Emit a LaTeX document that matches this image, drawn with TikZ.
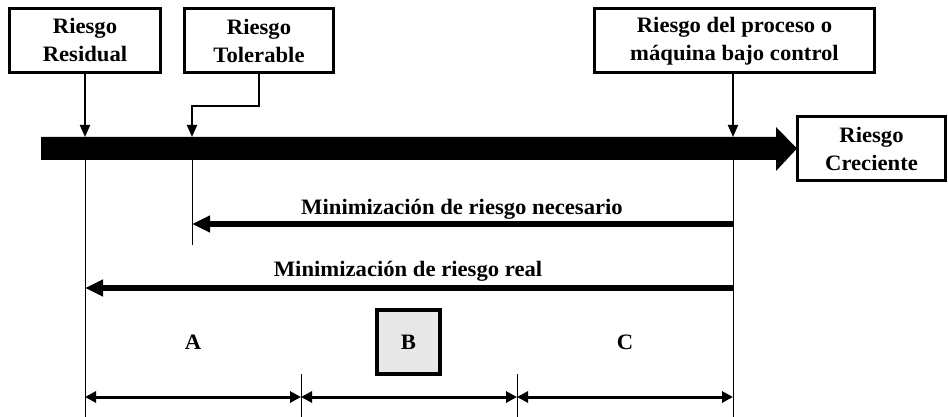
\documentclass[tikz,border=0pt]{standalone}
\usepackage{fontspec}
\setmainfont{Liberation Serif}[FakeStretch=1.03]
\usetikzlibrary{arrows.meta}
\definecolor{bfill}{HTML}{E8E8E8}
\begin{document}
\begin{tikzpicture}[x=1pt,y=-1pt,
  lbl/.style={font=\fontsize{22}{28}\selectfont\bfseries, align=center, inner sep=0pt},
  topbox/.style={lbl, draw, line width=3pt, minimum height=64pt},
  downarr/.style={line width=2pt, -{Triangle[length=12pt,width=10pt]}},
  bigarr/.style={line width=6pt, -{Triangle[length=18pt,width=16pt]}},
  vline/.style={line width=1pt},
  dimarr/.style={line width=3pt, {Triangle[length=11pt,width=11pt]}-{Triangle[length=11pt,width=11pt]}}
]
\useasboundingbox (0,0) rectangle (948,417);

% boxes
\node[topbox, minimum width=151pt] (res) at (85,40.5) {Riesgo\\Residual};
\node[topbox, minimum width=149pt] (tol) at (259,40.5) {Riesgo\\Tolerable};
\node[topbox, minimum width=280pt] (proc) at (734.5,41) {Riesgo del proceso o\\máquina bajo control};
\node[topbox, minimum width=148pt] (crec) at (871.5,148.5) {Riesgo\\Creciente};

% thick bar arrow
\fill (41,137) -- (776,137) -- (776,127) -- (797,148.5) -- (776,171) -- (776,160) -- (41,160) -- cycle;

% coordinates
\coordinate (resHit) at (85,137);
\coordinate (resBot) at (85,160);
\coordinate (resEnd) at (85,417);
\coordinate (tolBend) at (192,106);
\coordinate (tolHit) at (192,137);
\coordinate (tolBot) at (192,160);
\coordinate (tolEnd) at (192,245);
\coordinate (procHit) at (733,137);
\coordinate (procBot) at (733,160);
\coordinate (procEnd) at (733,417);
\coordinate (n1s) at (733,224);
\coordinate (n1e) at (192,224);
\coordinate (n2s) at (733,288);
\coordinate (n2e) at (85,288);
\coordinate (d0) at (85,397);
\coordinate (d1) at (301,397);
\coordinate (d2) at (517,397);
\coordinate (d3) at (733,397);
\coordinate (t1a) at (301,374);
\coordinate (t1b) at (301,417);
\coordinate (t2a) at (517,374);
\coordinate (t2b) at (517,417);

% arrows from boxes to bar
\draw[downarr] (res.south) -- (resHit);
\draw[downarr] (tol.south) |- (tolBend) -- (tolHit);
\draw[downarr] (procHit |- proc.south) -- (procHit);

% vertical thin lines
\draw[vline] (resBot) -- (resEnd);
\draw[vline] (tolBot) -- (tolEnd);
\draw[vline] (procBot) -- (procEnd);
\draw[vline] (t1a) -- (t1b);
\draw[vline] (t2a) -- (t2b);

% minimisation arrows
\draw[bigarr] (n1s) -- (n1e);
\draw[bigarr] (n2s) -- (n2e);
\node[lbl, anchor=base] (necLbl) at (462,214) {Minimización de riesgo necesario};
\node[lbl, anchor=base] (realLbl) at (408,276) {Minimización de riesgo real};

% A B C
\node[lbl] (A) at (193,342) {A};
\node[lbl, draw, line width=4pt, fill=bfill, minimum width=63pt, minimum height=64pt] (B) at (408.5,342) {B};
\node[lbl] (C) at (625,342) {C};

% dimension arrows
\draw[dimarr] (d0) -- (d1);
\draw[dimarr] (d1) -- (d2);
\draw[dimarr] (d2) -- (d3);
\end{tikzpicture}
\end{document}
